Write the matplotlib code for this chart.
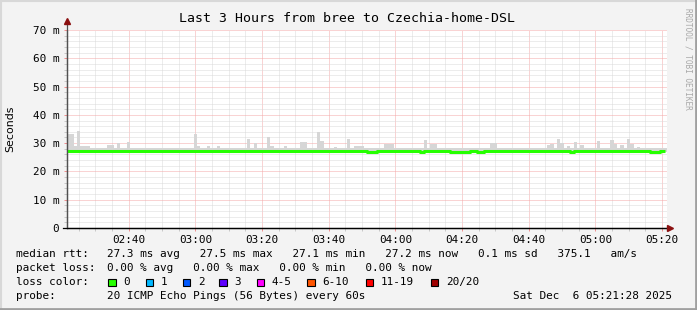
import numpy as np
import matplotlib
matplotlib.use("Agg")
import matplotlib.pyplot as plt
from matplotlib.patches import Rectangle
from matplotlib.lines import Line2D

# ---------------- data ----------------
start_time = "02:21:28"
tick_labels = ["02:40", "03:00", "03:20", "03:40", "04:00", "04:20", "04:40", "05:00", "05:20"]
y_ticks = [0, 10, 20, 30, 40, 50, 60, 70]
y_tick_labels = ["0", "10 m", "20 m", "30 m", "40 m", "50 m", "60 m", "70 m"]

# median rtt per minute (ms)
median = [
    27.3, 27.3, 27.3, 27.3, 27.3, 27.3, 27.3, 27.3, 27.3, 27.3,
    27.3, 27.3, 27.3, 27.3, 27.3, 27.3, 27.3, 27.3, 27.3, 27.3,
    27.3, 27.3, 27.3, 27.3, 27.3, 27.3, 27.3, 27.3, 27.3, 27.3,
    27.3, 27.3, 27.3, 27.3, 27.3, 27.3, 27.3, 27.3, 27.3, 27.3,
    27.3, 27.3, 27.3, 27.3, 27.3, 27.3, 27.3, 27.3, 27.3, 27.3,
    27.3, 27.3, 27.3, 27.3, 27.3, 27.3, 27.3, 27.3, 27.3, 27.3,
    27.3, 27.3, 27.3, 27.3, 27.3, 27.3, 27.3, 27.3, 27.3, 27.3,
    27.3, 27.3, 27.3, 27.3, 27.3, 27.3, 27.3, 27.3, 27.3, 27.3,
    27.3, 27.3, 27.3, 27.3, 27.3, 27.3, 27.3, 27.3, 27.3, 27.3,
    26.9, 26.9, 26.9, 27.3, 27.3, 27.3, 27.3, 27.3, 27.3, 27.3,
    27.3, 27.3, 27.3, 27.3, 27.3, 27.3, 26.9, 27.3, 27.3, 27.3,
    27.3, 27.3, 27.3, 27.3, 27.3, 26.9, 26.9, 26.9, 26.9, 26.9,
    26.9, 27.3, 27.3, 26.9, 26.9, 27.3, 27.3, 27.3, 27.3, 27.3,
    27.3, 27.3, 27.3, 27.3, 27.3, 27.3, 27.3, 27.3, 27.3, 27.3,
    27.3, 27.3, 27.3, 27.3, 27.3, 27.3, 27.3, 27.3, 27.3, 27.3,
    27.3, 26.9, 27.3, 27.3, 27.3, 27.3, 27.3, 27.3, 27.3, 27.3,
    27.3, 27.3, 27.3, 27.3, 27.3, 27.3, 27.3, 27.3, 27.3, 27.3,
    27.3, 27.3, 27.3, 27.3, 27.3, 26.9, 26.9, 26.9, 27.3, 27.3,
]

# highest ping per minute (ms) - top of the smoke
smoke_top = [
    33.2, 33.2, 29.0, 34.4, 29.0, 29.0, 29.0, 28.2, 28.2, 28.2,
    28.2, 28.2, 29.3, 29.3, 28.2, 30.1, 28.2, 28.2, 30.5, 28.2,
    28.2, 28.2, 28.2, 28.2, 28.2, 28.2, 28.2, 28.2, 28.2, 28.2,
    28.2, 28.2, 28.2, 28.2, 28.2, 28.2, 28.2, 28.2, 33.2, 29.0,
    28.2, 28.2, 29.0, 28.2, 28.2, 29.0, 28.2, 28.2, 28.2, 28.2,
    28.2, 28.2, 28.2, 28.2, 31.4, 28.2, 30.0, 28.2, 28.2, 28.2,
    32.0, 29.0, 28.2, 28.2, 28.2, 29.0, 28.2, 28.2, 28.2, 28.2,
    30.3, 30.3, 28.2, 28.2, 28.2, 33.8, 30.7, 28.2, 28.2, 28.2,
    28.7, 28.2, 28.2, 28.2, 31.5, 28.2, 29.0, 29.0, 29.0, 28.2,
    28.2, 28.2, 28.2, 28.2, 28.2, 29.7, 29.7, 29.7, 28.2, 28.2,
    28.2, 28.2, 28.2, 28.2, 28.2, 28.2, 28.2, 31.0, 28.2, 29.7,
    29.7, 28.2, 28.2, 28.2, 28.2, 28.2, 28.2, 28.2, 28.2, 28.2,
    28.2, 28.2, 28.2, 28.2, 28.2, 28.2, 28.2, 30.1, 30.1, 28.2,
    28.2, 28.2, 28.2, 28.2, 28.2, 28.2, 28.2, 28.2, 28.2, 28.2,
    28.4, 28.4, 28.2, 28.2, 29.3, 29.7, 28.2, 31.4, 30.1, 28.2,
    29.0, 28.2, 30.3, 28.2, 29.3, 28.2, 28.2, 28.2, 28.2, 30.7,
    28.2, 28.2, 28.2, 31.0, 29.7, 28.2, 29.3, 28.2, 31.4, 29.7,
    28.2, 28.5, 28.2, 28.2, 28.2, 28.4, 28.2, 28.2, 28.2, 28.2,
]

# lowest ping per minute (ms) - bottom of the smoke
smoke_low = [m - 0.4 for m in median]

loss_labels = ["0", "1", "2", "3", "4-5", "6-10", "11-19", "20/20"]
loss_colors = ["#26ff00", "#00b8ff", "#0059ff", "#5e00ff", "#ff00ff", "#ff5500", "#ff0000", "#a00000"]

title = "Last 3 Hours from bree to Czechia-home-DSL"
row_rtt = "27.3 ms avg   27.5 ms max   27.1 ms min   27.2 ms now   0.1 ms sd   375.1   am/s"
row_loss = "0.00 % avg   0.00 % max   0.00 % min   0.00 % now"
row_probe = "20 ICMP Echo Pings (56 Bytes) every 60s"
stamp = "Sat Dec  6 05:21:28 2025"

# ---------------- figure ----------------
W, H = 697, 310
fig = plt.figure(figsize=(W / 100, H / 100), dpi=100)
fig.patch.set_facecolor("#f3f3f3")

def fx(px):
    return px / W

def fy(py):
    return 1 - py / H

ax = fig.add_axes([fx(67), fy(228), fx(600), 198 / H])
ax.set_facecolor("white")

def to_min(s):
    p = [int(v) for v in s.split(":")]
    return p[0] * 60 + p[1] + (p[2] / 60 if len(p) > 2 else 0)

t0 = to_min(start_time)
n = len(median)
idx = np.arange(n)

ax.set_xlim(0, 180)
ax.set_ylim(0, 70)

# grid
maj_x = [to_min(l) - t0 for l in tick_labels]
min_x = [m - t0 for m in range(145, 325, 5) if (m - t0) > 0 and (m - t0) < 180]
ax.set_xticks(maj_x)
ax.set_xticklabels(tick_labels)
ax.set_xticks(min_x, minor=True)
ax.set_yticks(y_ticks)
ax.set_yticklabels(y_tick_labels)
ax.set_yticks([v for v in range(2, 70, 2) if v % 10], minor=True)

ax.grid(which="minor", color="#dadada", linestyle=(0, (1, 1)), linewidth=0.72)
ax.grid(which="major", color="#f5a8a8", linestyle=(0, (1, 1)), linewidth=0.72)
ax.set_axisbelow(True)

mono = "DejaVu Sans Mono"
ax.tick_params(axis="both", which="major", length=2.2, width=0.72, color="#f09090",
               labelsize=7.9, pad=3.5)
ax.tick_params(axis="both", which="minor", length=2.2, width=0.72, color="#c8c8c8")
ax.tick_params(axis="x", which="major", pad=2.5)
for lab in ax.get_xticklabels() + ax.get_yticklabels():
    lab.set_family(mono)

for s in ["top", "right"]:
    ax.spines[s].set_visible(False)
ax.spines["left"].set_color("#505050")
ax.spines["bottom"].set_color("#000000")
ax.spines["left"].set_linewidth(0.9)
ax.spines["bottom"].set_linewidth(0.9)

# smoke
ax.bar(idx, np.array(smoke_top) - np.array(smoke_low), bottom=smoke_low, width=1.0,
       align="edge", color="#d6d6d6", linewidth=0, zorder=2)
# median line
xs = np.append(idx, n - 0.5)
ys = np.append(median, median[-1])
ax.step(xs, ys, where="post", color="#26ff00", linewidth=2.2, zorder=3, solid_capstyle="butt")

# axis extensions and arrows
fig.add_artist(Line2D([fx(67), fx(67)], [fy(228), fy(22)], color="#505050", lw=0.9))
fig.add_artist(Line2D([fx(63), fx(667)], [fy(228), fy(228)], color="#000000", lw=0.9))
fig.add_artist(Line2D([fx(67)], [fy(21)], marker="^", markersize=4.5, color="#8b1010", lw=0))
fig.add_artist(Line2D([fx(670)], [fy(228)], marker=">", markersize=4.5, color="#8b1010", lw=0))

# title and labels
fig.text(fx(347), fy(19), title, ha="center", va="center", family=mono, fontsize=9.5)
fig.text(fx(10), fy(129), "Seconds", ha="center", va="center", rotation=90,
         family="DejaVu Sans", fontsize=7.9)
fig.text(fx(688), fy(59), "RRDTOOL / TOBI OETIKER", ha="center", va="center", rotation=270,
         family=mono, fontsize=5.6, color="#a8a8a8")

# legend rows
fs = 7.9
rows = [254, 267.7, 282.3, 296]
fig.text(fx(16), fy(rows[0]), "median rtt:", family=mono, fontsize=fs, va="center")
fig.text(fx(107.3), fy(rows[0]), row_rtt, family=mono, fontsize=fs, va="center")
fig.text(fx(16), fy(rows[1]), "packet loss:", family=mono, fontsize=fs, va="center")
fig.text(fx(107.3), fy(rows[1]), row_loss, family=mono, fontsize=fs, va="center")
fig.text(fx(16), fy(rows[2]), "loss color:", family=mono, fontsize=fs, va="center")
box_x = [108.3, 145.7, 182.7, 219.3, 256.7, 307.3, 365.7, 430.7]
for bx, lab, col in zip(box_x, loss_labels, loss_colors):
    fig.add_artist(Rectangle((fx(bx), fy(286.3)), fx(7.5), 7.7 / H, facecolor=col,
                             edgecolor="black", linewidth=0.8, transform=fig.transFigure))
    fig.text(fx(bx + 15), fy(rows[2]), lab, family=mono, fontsize=fs, va="center")
fig.text(fx(16), fy(rows[3]), "probe:", family=mono, fontsize=fs, va="center")
fig.text(fx(107.3), fy(rows[3]), row_probe, family=mono, fontsize=fs, va="center")
fig.text(fx(513.3), fy(rows[3]), stamp, family=mono, fontsize=fs, va="center")

# outer 3D frame
fig.add_artist(Line2D([0, 1], [fy(0.8), fy(0.8)], color="#d8d8d8", lw=1.5))
fig.add_artist(Line2D([fx(0.8), fx(0.8)], [0, 1], color="#d8d8d8", lw=1.5))
fig.add_artist(Line2D([0, 1], [fy(309), fy(309)], color="#a0a0a0", lw=2))
fig.add_artist(Line2D([fx(696), fx(696)], [0, 1], color="#a0a0a0", lw=2))

fig.savefig("out.png", dpi=100, facecolor=fig.get_facecolor())
